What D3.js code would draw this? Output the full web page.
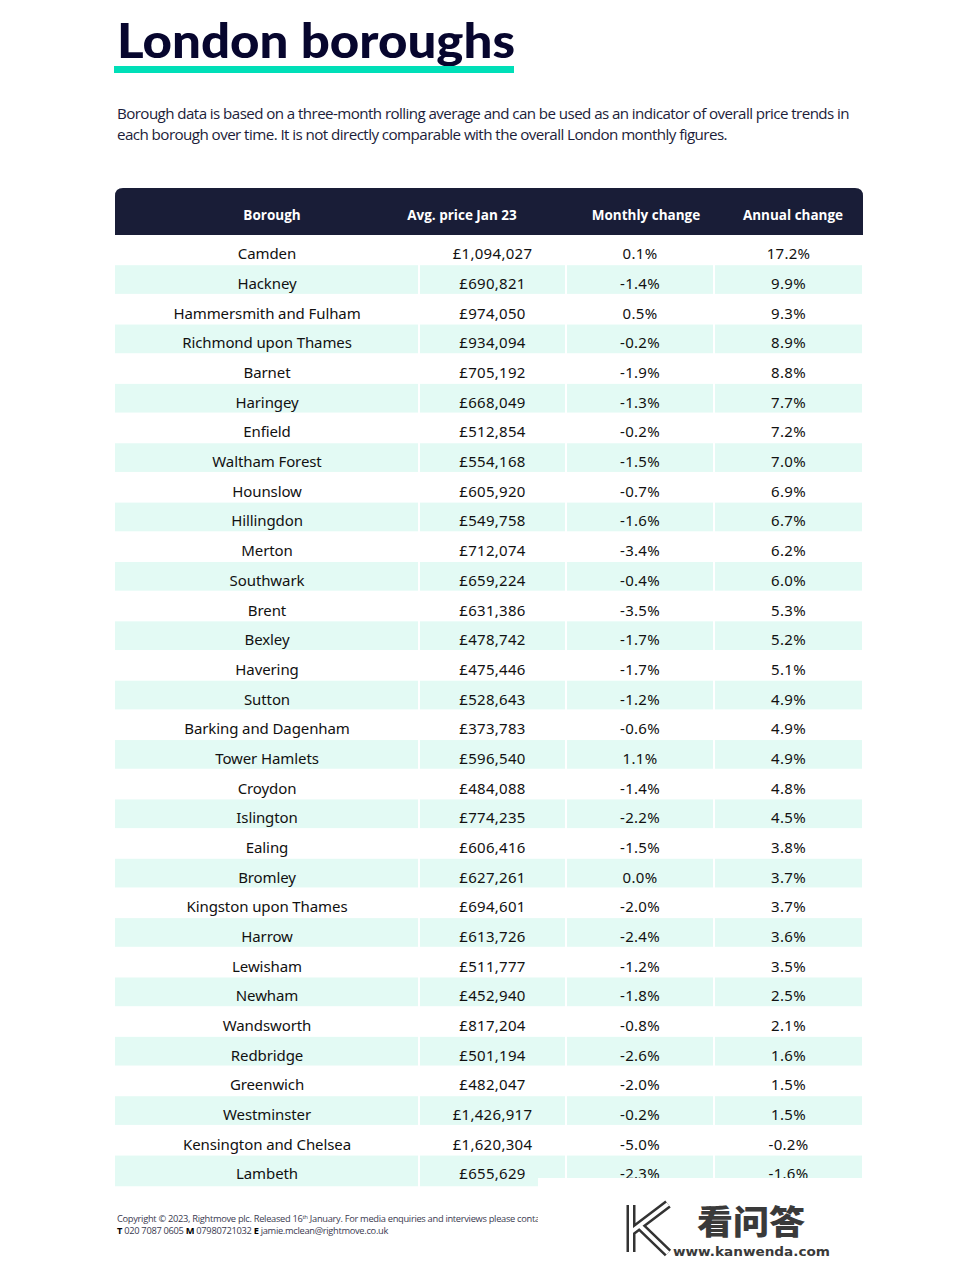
<!DOCTYPE html>
<html><head><meta charset="utf-8">
<script src="https://cdn.jsdelivr.net/npm/d3@7"></script>
<style>body{margin:0;background:#fff}svg{display:block}</style>
</head><body>
<script>
const boroughs = ["Camden","Hackney","Hammersmith and Fulham","Richmond upon Thames","Barnet","Haringey","Enfield","Waltham Forest","Hounslow","Hillingdon","Merton","Southwark","Brent","Bexley","Havering","Sutton","Barking and Dagenham","Tower Hamlets","Croydon","Islington","Ealing","Bromley","Kingston upon Thames","Harrow","Lewisham","Newham","Wandsworth","Redbridge","Greenwich","Westminster","Kensington and Chelsea","Lambeth"];
const avgPrice = [1094027,690821,974050,934094,705192,668049,512854,554168,605920,549758,712074,659224,631386,478742,475446,528643,373783,596540,484088,774235,606416,627261,694601,613726,511777,452940,817204,501194,482047,1426917,1620304,655629];
const monthlyChange = [0.1,-1.4,0.5,-0.2,-1.9,-1.3,-0.2,-1.5,-0.7,-1.6,-3.4,-0.4,-3.5,-1.7,-1.7,-1.2,-0.6,1.1,-1.4,-2.2,-1.5,0.0,-2.0,-2.4,-1.2,-1.8,-0.8,-2.6,-2.0,-0.2,-5.0,-2.3];
const annualChange = [17.2,9.9,9.3,8.9,8.8,7.7,7.2,7.0,6.9,6.7,6.2,6.0,5.3,5.2,5.1,4.9,4.9,4.9,4.8,4.5,3.8,3.7,3.7,3.6,3.5,2.5,2.1,1.6,1.5,1.5,-0.2,-1.6];
const headers = ["Borough","Avg. price Jan 23","Monthly change","Annual change"];

(function(){
const W=972,H=1262;
const svg=d3.select("body").append("svg").attr("width",W).attr("height",H);

// Title
svg.append("text").attr("x",117).attr("y",58).text("London boroughs")
  .attr("font-family","Lato").attr("font-weight",900).attr("font-size",48)
  .attr("textLength",398).attr("lengthAdjust","spacingAndGlyphs").attr("fill","#07062e");
svg.append("rect").attr("x",114).attr("y",66).attr("width",400).attr("height",7).attr("fill","#00dfb8");

// Subtitle
const sub=["Borough data is based on a three-month rolling average and can be used as an indicator of overall price trends in",
 "each borough over time. It is not directly comparable with the overall London monthly figures."];
svg.selectAll("text.sub").data(sub).join("text").attr("class","sub")
  .attr("x",117).attr("y",(d,i)=>119+i*21).text(d=>d)
  .attr("font-family","Open Sans").attr("font-size",14.5).attr("letter-spacing",-0.55)
  .attr("fill","#1c1d3a").attr("textLength",(d,i)=>i==0?732:610).attr("lengthAdjust","spacingAndGlyphs");

// Table layout
const edges=[115,419,566,714,863];
const tableTop=235, rowH=29.68;
const y=d3.scaleBand().domain(boroughs).range([tableTop, tableTop+rowH*boroughs.length]);
const colCenter=i=>(edges[i]+edges[i+1])/2;

// header
const hx=[272,462,646,793];
svg.append("path").attr("d",(()=>{const x0=115,x1=863,y0=188,y1=235,r=8;
  return `M${x0},${y1}V${y0+r}Q${x0},${y0} ${x0+r},${y0}H${x1-r}Q${x1},${y0} ${x1},${y0+r}V${y1}Z`;})())
  .attr("fill","#191d37");
svg.selectAll("text.hd").data(headers).join("text").attr("class","hd")
  .attr("x",(d,i)=>hx[i]).attr("y",220).attr("text-anchor","middle").text(d=>d)
  .attr("font-family","Open Sans").attr("font-weight",700).attr("font-size",13.5)
  .attr("letter-spacing",0).attr("fill","#fff");

// bands
const rows=boroughs.map((b,i)=>({b,i,p:avgPrice[i],m:monthlyChange[i],a:annualChange[i]}));
const g=svg.append("g");
rows.filter(d=>d.i%2==1).forEach(d=>{
  for(let c=0;c<4;c++){
    g.append("rect").attr("x",edges[c]+(c?1:0)).attr("y",y(d.b)+0.5)
     .attr("width",edges[c+1]-edges[c]-(c?2:1)).attr("height",y.bandwidth()+(d.i==boroughs.length-1?1:-1))
     .attr("fill","#e3faf4");
  }
});
const fmtP=d=>"£"+d3.format(",")(d);
const fmtC=d=>d.toFixed(1)+"%";
const cells=[d=>d.b,d=>fmtP(d.p),d=>fmtC(d.m),d=>fmtC(d.a)];
for(let c=0;c<4;c++){
  g.selectAll("text.c"+c).data(rows).join("text").attr("class","c"+c)
   .attr("x",colCenter(c)).attr("y",d=>y(d.b)+y.bandwidth()/2+9.5)
   .attr("text-anchor","middle").text(cells[c])
   .attr("font-family","Noto Sans").attr("font-size",15).attr("fill","#111")
   .attr("letter-spacing",c==0?-0.1:0.3);
}

// footer
const f=svg.append("g").attr("font-family","Open Sans").attr("font-size",9.3).attr("fill","#3a3a50");
const t1=f.append("text").attr("x",117).attr("y",1222).attr("letter-spacing",-0.3);
t1.append("tspan").text("Copyright © 2023, Rightmove plc. Released 16");
t1.append("tspan").attr("font-size",6).attr("dy",-3).text("th");
t1.append("tspan").attr("dy",3).text(" January. For media enquiries and interviews please contact");
const t2=f.append("text").attr("x",117).attr("y",1234).attr("letter-spacing",-0.3);
t2.append("tspan").attr("font-weight",700).attr("fill","#000").text("T ");
t2.append("tspan").text("020 7087 0605 ");
t2.append("tspan").attr("font-weight",700).attr("fill","#000").text("M ");
t2.append("tspan").text("07980721032  ");
t2.append("tspan").attr("font-weight",700).attr("fill","#000").text("E ");
t2.append("tspan").text("jamie.mclean@rightmove.co.uk");

// watermark overlay
svg.append("rect").attr("x",538).attr("y",1178).attr("width",W-538).attr("height",H-1178).attr("fill","#fff");
const wm=svg.append("g");
const kd="M631,1205 L631,1252 M631,1232 L668,1204 M640,1226 L668,1253";
wm.append("path").attr("d",kd).attr("stroke","#333").attr("stroke-width",9).attr("fill","none").attr("stroke-linejoin","round");
wm.append("path").attr("d",kd).attr("stroke","#fff").attr("stroke-width",4).attr("fill","none").attr("stroke-linejoin","round");
wm.append("text").attr("x",697).attr("y",1234).text("看问答")
  .attr("font-family","Noto Sans CJK SC").attr("font-weight",900).attr("font-size",33).attr("fill","#3a3a3a")
  .attr("textLength",108).attr("lengthAdjust","spacingAndGlyphs");
wm.append("text").attr("x",673).attr("y",1256).text("www.kanwenda.com")
  .attr("font-family","DejaVu Sans").attr("font-weight",700).attr("font-size",12).attr("fill","#3a3a3a")
  .attr("textLength",157).attr("lengthAdjust","spacingAndGlyphs");
})();
</script>
</body></html>
